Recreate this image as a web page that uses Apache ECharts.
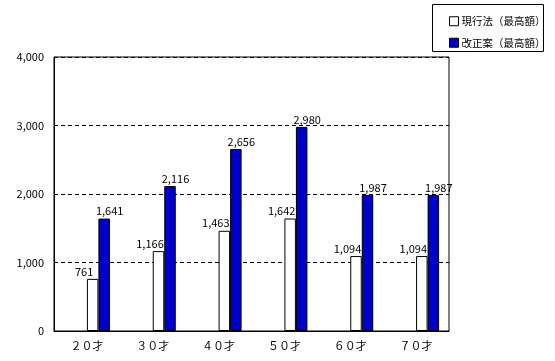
<!DOCTYPE html>
<html><head><meta charset="utf-8">
<script src="https://cdn.jsdelivr.net/npm/echarts@6/dist/echarts.min.js"></script>
<style>html,body{margin:0;padding:0;background:#fff}#c{width:555px;height:361px}</style>
</head><body><div id="c"></div>
<script>
const categories = ['２０才','３０才','４０才','５０才','６０才','７０才'];
const currentLaw = [761, 1166, 1463, 1642, 1094, 1094];
const revisedPlan = [1641, 2116, 2656, 2980, 1987, 1987];
const seriesNames = ['現行法（最高額）','改正案（最高額）'];
const yTicks = {min: 0, max: 4000, interval: 1000};

const fmt = v => Number(v).toLocaleString('en-US');
const font = '"Noto Sans CJK JP", sans-serif';
const chart = echarts.init(document.getElementById('c'), null, {renderer: 'canvas'});
const labelCfg = dx => ({show: true, position: 'top', distance: 2, offset: [dx, 0], color: '#000', fontSize: 11, fontFamily: font,
  formatter: p => fmt(p.value)});
const blank = () => ({type: 'bar', data: categories.map(() => '-'), barWidth: 11.5, barGap: '0%', silent: true});
chart.setOption({
  animation: false,
  textStyle: {fontFamily: font},
  grid: {left: 54, top: 57, width: 395, height: 274, show: true, borderColor: '#000', borderWidth: 1},
  graphic: [{type: 'rect', shape: {x: 432.5, y: 4.5, width: 111, height: 47}, style: {fill: 'none', stroke: '#000', lineWidth: 1}}],
  legend: {
    orient: 'vertical', left: 444, top: 11, itemWidth: 9, itemHeight: 9, itemGap: 11,
    icon: 'rect', textStyle: {fontSize: 10.5, color: '#000', fontFamily: font, padding: [0, 0, 0, -2]},
    data: [
      {name: seriesNames[0], itemStyle: {color: '#fff', borderColor: '#000', borderWidth: 1}},
      {name: seriesNames[1], itemStyle: {color: '#0000CC', borderColor: '#000', borderWidth: 1}}
    ]
  },
  xAxis: {
    type: 'category', data: categories, boundaryGap: true,
    axisLine: {lineStyle: {color: '#000'}},
    axisTick: {inside: true, length: 4, lineStyle: {color: '#000'}},
    axisLabel: {color: '#000', fontSize: 11, margin: 9, fontFamily: font}
  },
  yAxis: {
    type: 'value', min: yTicks.min, max: yTicks.max, interval: yTicks.interval,
    axisLine: {show: true, lineStyle: {color: '#000'}},
    axisTick: {show: false},
    axisLabel: {color: '#000', fontSize: 11, margin: 10, formatter: v => fmt(v), fontFamily: font},
    splitLine: {lineStyle: {color: '#000', type: [4, 3], width: 1}}
  },
  series: [
    blank(), blank(),
    {name: seriesNames[0], type: 'bar', data: currentLaw, barWidth: 11.5, barGap: '0%',
     itemStyle: {color: '#fff', borderColor: '#000', borderWidth: 1}, label: labelCfg(-8.5)},
    {name: seriesNames[1], type: 'bar', data: revisedPlan, barWidth: 11.5, barGap: '0%',
     itemStyle: {color: '#0000CC', borderColor: '#000', borderWidth: 1}, label: labelCfg(5.5)}
  ]
});
</script></body></html>
